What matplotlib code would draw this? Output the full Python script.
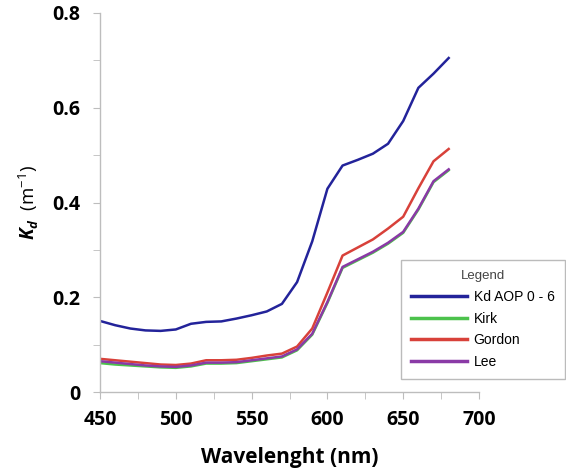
import matplotlib
matplotlib.use('Agg')
import matplotlib.pyplot as plt
from matplotlib.ticker import MultipleLocator

wavelength = [450, 460, 470, 480, 490, 500, 510, 520, 530, 540, 550, 560,
              570, 580, 590, 600, 610, 620, 630, 640, 650, 660, 670, 680]

kd_aop = [0.150, 0.141, 0.134, 0.130, 0.129, 0.132, 0.144, 0.148, 0.149, 0.155,
          0.162, 0.170, 0.186, 0.232, 0.318, 0.429, 0.478, 0.490, 0.503, 0.524,
          0.572, 0.642, 0.672, 0.705]
kirk = [0.061, 0.058, 0.056, 0.054, 0.052, 0.051, 0.054, 0.060, 0.060, 0.061,
        0.065, 0.069, 0.073, 0.088, 0.121, 0.188, 0.262, 0.278, 0.294, 0.313,
        0.336, 0.385, 0.443, 0.468]
gordon = [0.070, 0.067, 0.064, 0.061, 0.058, 0.057, 0.060, 0.067, 0.067, 0.068,
          0.072, 0.077, 0.081, 0.096, 0.134, 0.210, 0.288, 0.305, 0.322, 0.345,
          0.370, 0.430, 0.487, 0.513]
lee = [0.065, 0.062, 0.059, 0.056, 0.054, 0.053, 0.056, 0.062, 0.062, 0.063,
       0.067, 0.071, 0.075, 0.090, 0.123, 0.190, 0.264, 0.280, 0.296, 0.315,
       0.338, 0.387, 0.445, 0.470]

plt.rcParams['font.family'] = ['Open Sans', 'DejaVu Sans']
plt.rcParams['mathtext.fontset'] = 'custom'
plt.rcParams['mathtext.it'] = 'Open Sans:italic:bold'
plt.rcParams['mathtext.rm'] = 'Open Sans'

fig = plt.figure(figsize=(5.66, 4.74), dpi=100)
ax = fig.add_axes([100 / 566, 1 - 392 / 474, 379 / 566, 379 / 474])

ax.plot(wavelength, kd_aop, color='#23239a', lw=1.8, label='Kd AOP 0 - 6')
ax.plot(wavelength, kirk, color='#4cc24c', lw=1.8, label='Kirk')
ax.plot(wavelength, gordon, color='#d8413a', lw=1.8, label='Gordon')
ax.plot(wavelength, lee, color='#8a3aa6', lw=1.8, label='Lee')

ax.set_xlim(450, 700)
ax.set_ylim(0, 0.8)
ax.xaxis.set_major_locator(MultipleLocator(50))
ax.xaxis.set_minor_locator(MultipleLocator(25))
ax.yaxis.set_major_locator(MultipleLocator(0.2))
ax.yaxis.set_minor_locator(MultipleLocator(0.1))
ax.set_yticks([0, 0.2, 0.4, 0.6, 0.8])
ax.set_yticklabels(['0', '0.2', '0.4', '0.6', '0.8'])

for s in ['top', 'right']:
    ax.spines[s].set_visible(False)
for s in ['left', 'bottom']:
    ax.spines[s].set_color('#bdbdbd')
    ax.spines[s].set_linewidth(1.0)

ax.tick_params(axis='x', which='both', direction='out', length=5, color='#bdbdbd', pad=8)
ax.tick_params(axis='y', which='both', direction='out', length=5, color='#bdbdbd', pad=9)
for lab in ax.get_xticklabels() + ax.get_yticklabels():
    lab.set_fontweight('bold')
    lab.set_fontsize(14)

ax.set_xlabel('Wavelenght (nm)', fontsize=15, fontweight='bold', labelpad=12)
ax.set_ylabel(r'$K_d$  (m$^{-1}$)', fontsize=13.5, labelpad=8)

leg = fig.legend(loc='upper right', bbox_to_anchor=(565 / 566, 1 - 260 / 474),
                 borderaxespad=0, title='Legend', title_fontsize=9.5,
                 prop={'family': 'Liberation Sans', 'size': 10},
                 handlelength=4.0, fancybox=False, framealpha=1,
                 edgecolor='#bbbbbb', borderpad=0.75, labelspacing=0.55,
                 handletextpad=0.5)
leg.get_title().set_color('#444444')
leg.get_title().set_family('Liberation Sans')
leg.get_frame().set_linewidth(1.0)
for line in leg.get_lines():
    line.set_linewidth(2.5)

fig.savefig('out.png', dpi=100)
